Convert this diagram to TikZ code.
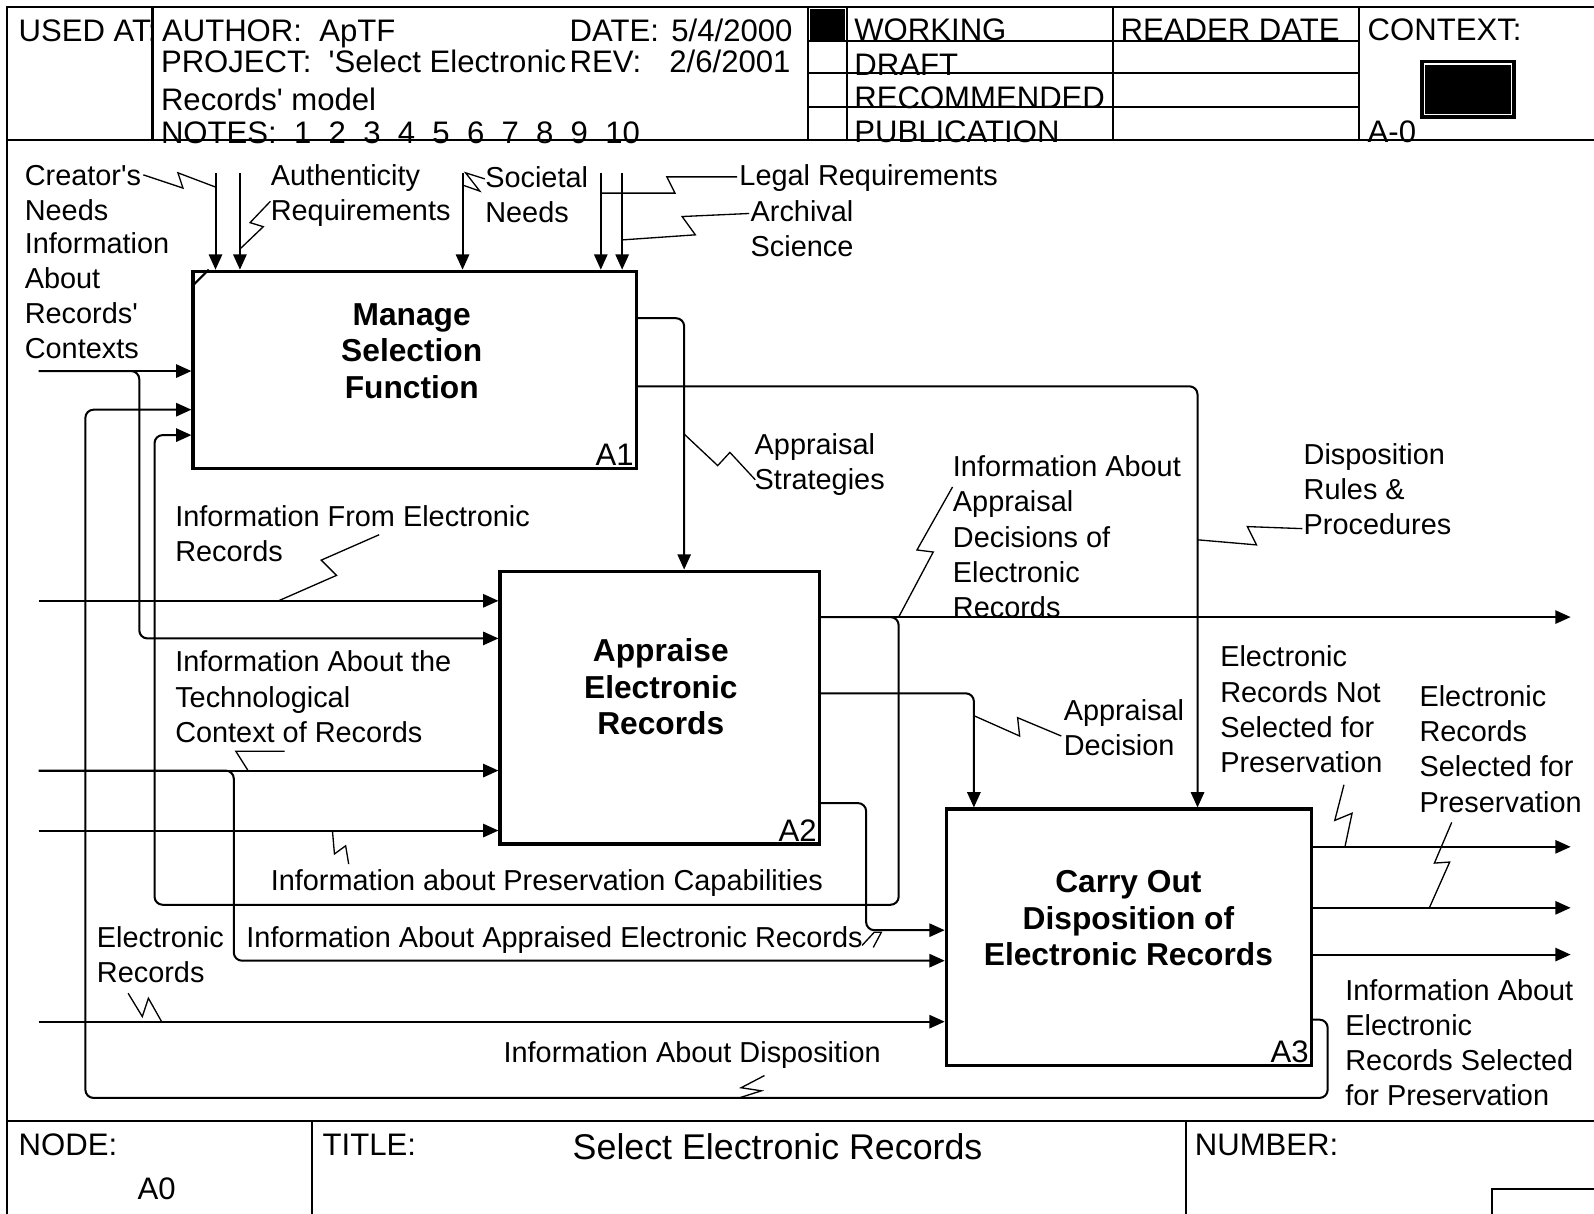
\documentclass[tikz,border=0pt]{standalone}
\usepackage{fontspec}
\setmainfont{Liberation Sans}
\usetikzlibrary{positioning,arrows.meta}
\newcommand\apo{\textquotesingle}

\begin{document}
\begin{tikzpicture}[
  x=0.5pt, y=-0.5pt,
  fn/.style={rectangle, draw, line width=1.7pt, inner sep=0pt},
  fntitle/.style={font=\bfseries\fontsize{15.6}{18}\selectfont, align=center, inner sep=0pt, anchor=base},
  boxnum/.style={font=\fontsize{15.3}{18}\selectfont, inner sep=2pt, anchor=south east},
  lbl/.style={font=\fontsize{14.2}{17.3}\selectfont, align=left, inner sep=0pt, anchor=base west},
  hdr/.style={font=\fontsize{15.3}{18}\selectfont, inner sep=0pt, anchor=base west},
  flow/.style={line width=1pt, rounded corners=4pt, -{Triangle[length=7.5pt,width=6.5pt]}},
  zig/.style={line width=0.65pt},
  frame/.style={line width=1pt}
]
\useasboundingbox (0,0) rectangle (1568,1194);

% form frame
\draw[frame] (1568,7) -- (7,7) -- (7,1194);
\draw[frame] (7,138) -- (1568,138);
\draw[frame] (7,1103) -- (1568,1103);
\draw[frame] (150,7) -- (150,138);
\draw[frame] (795,7) -- (795,138);
\draw[frame] (833,7) -- (833,138);
\draw[frame] (1095,7) -- (1095,138);
\draw[frame] (1337,7) -- (1337,138);
\draw[frame] (795,40) -- (1337,40);
\draw[frame] (795,72) -- (1337,72);
\draw[frame] (795,105) -- (1337,105);
\fill (797,9) rectangle (831,40);
\draw[line width=1pt, fill=black] (1398,60) rectangle (1490,116);
\draw[white, line width=0.6pt] (1401,63) rectangle (1487,113);
\draw[frame] (307,1103) -- (307,1194);
\draw[frame] (1167,1103) -- (1167,1194);
\draw[frame] (1568,1170) -- (1468,1170) -- (1468,1194);

% header texts
\node[hdr] (usedat) at (18,41) {USED AT:};
\node[hdr] (author) at (159,41) {AUTHOR:\ \ ApTF};
\node[hdr] (date) at (560,41) {DATE:};
\node[hdr, anchor=base east] (dateval) at (780,41) {5/4/2000};
\node[hdr] (project) at (158,71) {PROJECT:\ \ \apo Select Electronic};
\node[hdr] (rev) at (560,71) {REV:};
\node[hdr, anchor=base east] (revval) at (778,71) {2/6/2001};
\node[hdr] (model) at (158,109) {Records\apo\ model};
\node[hdr] (notes) at (158,141) {NOTES:\ \ 1\ \ 2\ \ 3\ \ 4\ \ 5\ \ 6\ \ 7\ \ 8\ \ 9\ \ 10};
\node[hdr] (working) at (840,40) {WORKING};
\node[hdr] (draft) at (840,74) {DRAFT};
\node[hdr] (recomm) at (840,107) {RECOMMENDED};
\node[hdr] (public) at (840,140) {PUBLICATION};
\node[hdr] (reader) at (1102,40) {READER DATE};
\node[hdr] (context) at (1345,40) {CONTEXT:};
\node[hdr] (aminus) at (1345,140) {A-0};

% footer texts
\node[hdr] (nodelbl) at (18,1137) {NODE:};
\node[hdr] (nodeval) at (135,1180) {A0};
\node[hdr] (titlelbl) at (317,1137) {TITLE:};
\node[hdr, font=\fontsize{17.6}{20}\selectfont] (titleval) at (563,1141) {Select Electronic Records};
\node[hdr] (numberlbl) at (1175,1137) {NUMBER:};

% activity boxes
\node[fn, minimum width=218pt, minimum height=97pt] (a1) at (408,364) {};
\node[fn, minimum width=157pt, minimum height=134pt] (a2) at (649,696) {};
\node[fn, minimum width=179.5pt, minimum height=126pt] (a3) at (1110.5,922) {};
\node[fntitle] (a1t) at (405,392) {Manage\\Selection\\Function};
\node[fntitle] (a2t) at (650,723) {Appraise\\Electronic\\Records};
\node[fntitle] (a3t) at (1110,950) {Carry Out\\Disposition of\\Electronic Records};
\node[boxnum] (a1n) at (a1.south east) {A1};
\node[boxnum] (a2n) at (a2.south east) {A2};
\node[boxnum] (a3n) at (a3.south east) {A3};
\draw[line width=1pt] ([shift={(2,15)}]a1.north west) -- ([shift={(17,0)}]a1.north west);

% free ends and bends
\coordinate (cCre) at (212,170);
\coordinate (cAut) at (236,170);
\coordinate (cSoc) at (455,170);
\coordinate (cLeg) at (591,170);
\coordinate (cArc) at (612,170);
\coordinate (iCtx) at (38,365);
\coordinate (kCtx) at (137,628);
\coordinate (iInf) at (38,591);
\coordinate (iTec) at (38,758);
\coordinate (kTec) at (230,945);
\coordinate (iCap) at (38,817);
\coordinate (iRec) at (38,1005);
\coordinate (cStr) at (673,313);
\coordinate (cRul) at (1178,380);
\coordinate (oDec) at (1545,607);
\coordinate (bDec) at (884,890);
\coordinate (fDec) at (152,428);
\coordinate (cApd) at (958,682);
\coordinate (oApr) at (852,790);
\coordinate (iApr) at (852,915);
\coordinate (oNot) at (1545,833);
\coordinate (oSel) at (1545,893);
\coordinate (oInf) at (1545,939);
\coordinate (oDis) at (1306,1003);
\coordinate (rDis) at (1306,1080);
\coordinate (fDis) at (84,403);

% controls of A1
\draw[flow] (cCre) -- (cCre |- a1.north);
\draw[flow] (cAut) -- (cAut |- a1.north);
\draw[flow] (cSoc) -- (cSoc |- a1.north);
\draw[flow] (cLeg) -- (cLeg |- a1.north);
\draw[flow] (cArc) -- (cArc |- a1.north);

% inputs
\draw[flow] (iCtx) -- (iCtx -| a1.west);
\draw[flow] (iCtx) -| (kCtx) -- (kCtx -| a2.west);
\draw[flow] (iInf) -- (iInf -| a2.west);
\draw[flow] (iTec) -- (iTec -| a2.west);
\draw[flow] (iTec) -| (kTec) -- (kTec -| a3.west);
\draw[flow] (iCap) -- (iCap -| a2.west);
\draw[flow] (iRec) -- (iRec -| a3.west);

% A1 outputs
\draw[flow] (a1.east |- cStr) -| (cStr |- a2.north);
\draw[flow] (a1.east |- cRul) -| (cRul |- a3.north);

% A2 outputs
\draw[flow] (a2.east |- oDec) -- (oDec);
\draw[flow] (a2.east |- oDec) -| (bDec) -| (fDec) -- (fDec -| a1.west);
\draw[flow] (a2.east |- cApd) -| (cApd |- a3.north);
\draw[flow] (a2.east |- oApr) -| (iApr) -- (iApr -| a3.west);

% A3 outputs
\draw[flow] (a3.east |- oNot) -- (oNot);
\draw[flow] (a3.east |- oSel) -- (oSel);
\draw[flow] (a3.east |- oInf) -- (oInf);
\draw[flow] (a3.east |- oDis) -| (rDis) -| (fDis) -- (fDis -| a1.west);

% arrow labels (base = last line)
\node[lbl] (lCre) at (24,216.6) {Creator\apo s\\Needs};
\node[lbl] (lCtx) at (24,352.8) {Information\\About\\Records\apo\\Contexts};
\node[lbl] (lAut) at (266,216.6) {Authenticity\\Requirements};
\node[lbl] (lSoc) at (477,218.6) {Societal\\Needs};
\node[lbl] (lLeg) at (727,182) {Legal Requirements};
\node[lbl] (lArc) at (738,252.6) {Archival\\Science};
\node[lbl] (lStr) at (742,481.6) {Appraisal\\Strategies};
\node[lbl] (lDec) at (937,607.4) {Information About\\Appraisal\\Decisions of\\Electronic\\Records};
\node[lbl] (lRul) at (1282,526.2) {Disposition\\Rules \&\\Procedures};
\node[lbl] (lInf) at (172,552.6) {Information From Electronic\\Records};
\node[lbl] (lTec) at (172,730.2) {Information About the\\Technological\\Context of Records};
\node[lbl] (lCap) at (266,876) {Information about Preservation Capabilities};
\node[lbl] (lRec) at (95,966.6) {Electronic\\Records};
\node[lbl] (lApr) at (242,932) {Information About Appraised Electronic Records};
\node[lbl] (lDis) at (495,1045) {Information About Disposition};
\node[lbl] (lApd) at (1046,743.6) {Appraisal\\Decision};
\node[lbl] (lNot) at (1200,759.8) {Electronic\\Records Not\\Selected for\\Preservation};
\node[lbl] (lSel) at (1396,798.8) {Electronic\\Records\\Selected for\\Preservation};
\node[lbl] (lInfSel) at (1323,1087.8) {Information About\\Electronic\\Records Selected\\for Preservation};

% label squiggles
\draw[zig] (141,172) -- (180,185) -- (175,170) -- (212,184);
\draw[zig] (266,198) -- (246,219) -- (259,223) -- (236,245);
\draw[zig] (477,176) -- (458,170) -- (472,188) -- (455,182);
\draw[zig] (725,174) -- (656,174) -- (664,190) -- (591,190);
\draw[zig] (737,210) -- (671,213) -- (684,231) -- (612,236);
\draw[zig] (673,427) -- (706,458) -- (718,445) -- (743,472);
\draw[zig] (937,479) -- (902,541) -- (918,543) -- (884,607);
\draw[zig] (1281,520) -- (1227,518) -- (1236,536) -- (1178,531);
\draw[zig] (373,526) -- (316,551) -- (331,566) -- (274,591);
\draw[zig] (280,739) -- (232,739) -- (244,758);
\draw[zig] (327,817) -- (329,840) -- (340,832) -- (343,850);
\draw[zig] (958,704) -- (1003,724) -- (1001,706) -- (1044,724);
\draw[zig] (1322,772) -- (1313,807) -- (1330,800) -- (1323,833);
\draw[zig] (1428,809) -- (1411,849) -- (1426,848) -- (1406,893);
\draw[zig] (126,977) -- (140,1000) -- (146,982) -- (159,1005);
\draw[zig] (752,1058) -- (729,1070) -- (749,1073) -- (727,1080);
\draw[zig] (848,930) -- (860,917) -- (867,917) -- (859,932);
\end{tikzpicture}
\end{document}
